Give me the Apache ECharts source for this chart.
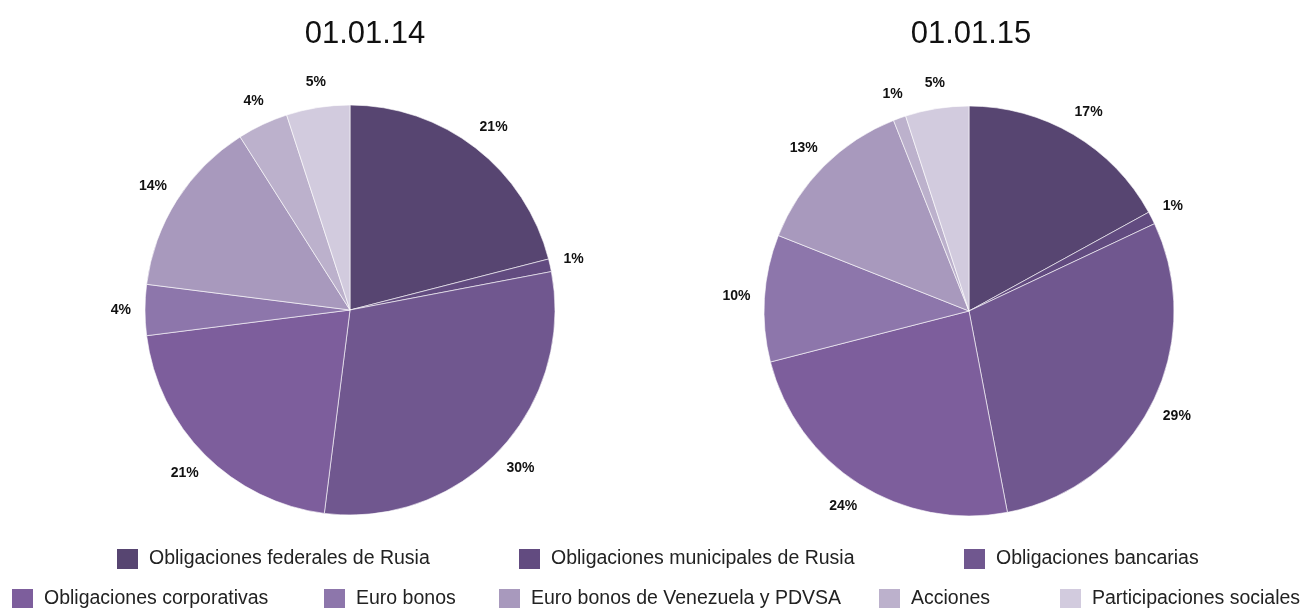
<!DOCTYPE html>
<html lang="es">
<head>
    <meta charset="UTF-8">
    <title>Estructura de la cartera</title>
    <script src="https://cdn.jsdelivr.net/npm/echarts@6.0.0/dist/echarts.min.js"></script>
    <style>
        html, body {margin: 0; padding: 0; background: #fff;}
        #chart {width: 1303px; height: 608px;}
    </style>
</head>
<body>
<div id="chart"></div>
<script>
    // categorias y valores (%)
    var categories = [
        'Obligaciones federales de Rusia',
        'Obligaciones municipales de Rusia',
        'Obligaciones bancarias',
        'Obligaciones corporativas',
        'Euro bonos',
        'Euro bonos de Venezuela y PDVSA',
        'Acciones',
        'Participaciones sociales'
    ];
    var values2014 = [21, 1, 30, 21, 4, 14, 4, 5];
    var values2015 = [17, 1, 29, 24, 10, 13, 1, 5];
    var titles = ['01.01.14', '01.01.15'];
    var colors = ['#574571', '#624B80', '#70578F', '#7D5E9C', '#8D76AB', '#A899BD', '#BCB1CC', '#D2CBDE'];

    var chart = echarts.init(document.getElementById('chart'));

    function pieData(values) {
        return values.map(function (v, i) {
            return {name: categories[i], value: v, itemStyle: {color: colors[i]}};
        });
    }

    function pieSeries(values, center) {
        return {
            type: 'pie',
            center: center,
            radius: 205,
            startAngle: 90,
            clockwise: true,
            animation: false,
            avoidLabelOverlap: false,
            data: pieData(values),
            itemStyle: {borderColor: '#fff', borderWidth: 0.6},
            label: {
                show: true,
                position: 'outside',
                formatter: '{c}%',
                fontFamily: 'Liberation Sans',
                fontWeight: 'bold',
                fontSize: 14,
                color: '#111',
                distanceToLabelLine: -12
            },
            labelLine: {show: false, length: 26, length2: 0},
            emphasis: {disabled: true}
        };
    }

    // legend: posiciones de cada elemento
    var legendPos = [
        [115, 547], [517, 547], [962, 547],
        [10, 587], [322, 587], [497, 587], [877, 587], [1058, 587]
    ];
    var legends = categories.map(function (name, i) {
        return {
            data: [name],
            left: legendPos[i][0],
            top: legendPos[i][1],
            icon: 'rect',
            itemWidth: 23,
            itemHeight: 22,
            selectedMode: false,
            padding: 0,
            textStyle: {
                fontFamily: 'Liberation Sans',
                fontSize: 19.5,
                color: '#222',
                padding: [0, 0, 0, 5]
            }
        };
    });

    chart.setOption({
        animation: false,
        title: [
            {text: titles[0], left: 360, top: 14, textAlign: 'center',
             textStyle: {fontFamily: 'Liberation Sans', fontWeight: 'normal', fontSize: 31, color: '#111'}},
            {text: titles[1], left: 966, top: 14, textAlign: 'center',
             textStyle: {fontFamily: 'Liberation Sans', fontWeight: 'normal', fontSize: 31, color: '#111'}}
        ],
        legend: legends,
        series: [
            pieSeries(values2014, [350, 310]),
            pieSeries(values2015, [969, 311])
        ]
    });
</script>
</body>
</html>
